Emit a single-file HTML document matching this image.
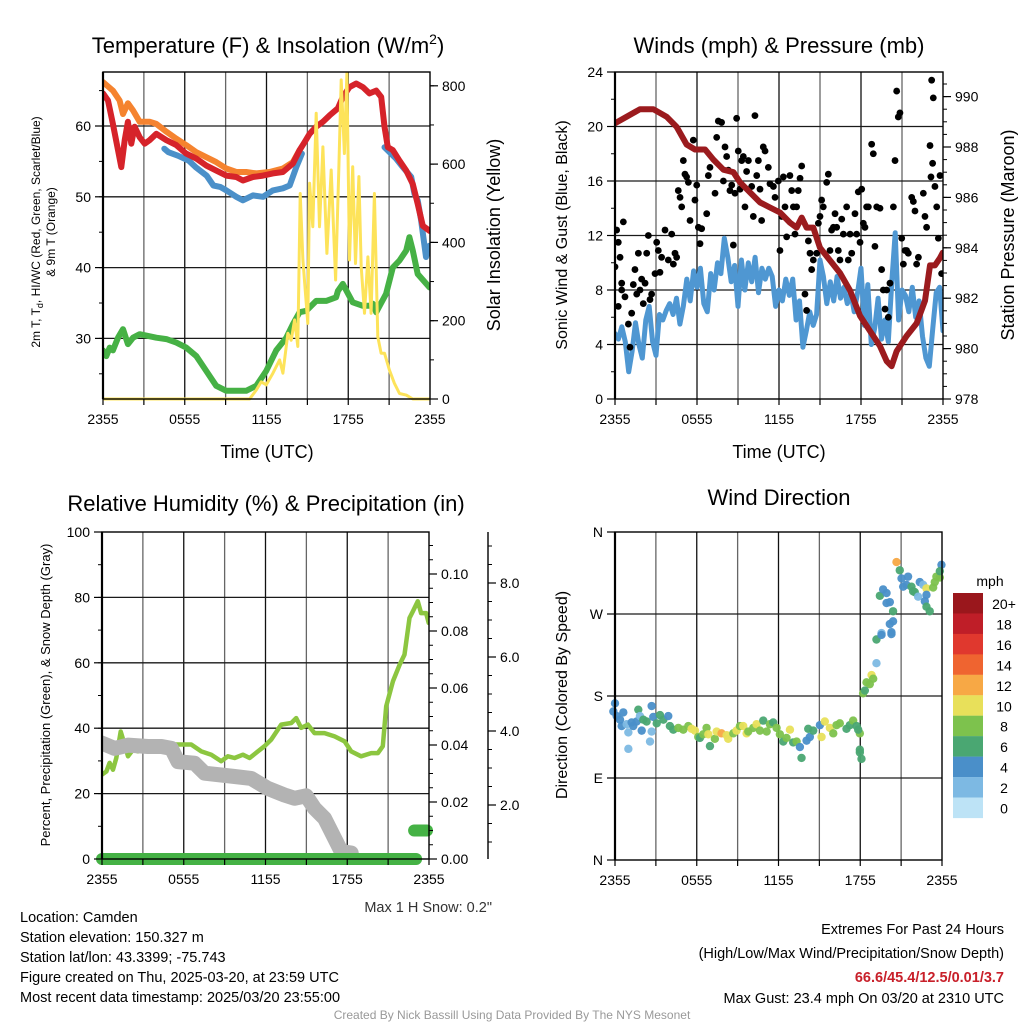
<!DOCTYPE html>
<html><head><meta charset="utf-8"><style>
html,body{margin:0;padding:0;background:#fff;}
svg{display:block;font-family:"Liberation Sans",Arial,sans-serif;}
</style></head><body>
<svg id="c" width="1024" height="1024" viewBox="0 0 1024 1024" xmlns="http://www.w3.org/2000/svg">
<g font-size="22" text-anchor="middle" fill="#000">
<text x="268" y="53">Temperature (F) &amp; Insolation (W/m<tspan dy="-9" font-size="14">2</tspan><tspan dy="9">)</tspan></text>
<text x="779" y="53">Winds (mph) &amp; Pressure (mb)</text>
<text x="266" y="511">Relative Humidity (%) &amp; Precipitation (in)</text>
<text x="779" y="505">Wind Direction</text>
</g>
<g fill="#000" text-anchor="middle">
<text x="267" y="458" font-size="18">Time (UTC)</text>
<text x="779" y="458" font-size="18">Time (UTC)</text>
<text transform="translate(40,232) rotate(-90)" font-size="12">2m T, T<tspan dy="3" font-size="9">d</tspan><tspan dy="-3">, HI/WC (Red, Green, Scarlet/Blue)</tspan></text>
<text transform="translate(55,232) rotate(-90)" font-size="12">&amp; 9m T (Orange)</text>
<text transform="translate(500,235) rotate(-90)" font-size="18">Solar Insolation (Yellow)</text>
<text transform="translate(567,235) rotate(-90)" font-size="16">Sonic Wind &amp; Gust (Blue, Black)</text>
<text transform="translate(1014,235) rotate(-90)" font-size="18">Station Pressure (Maroon)</text>
<text transform="translate(50,695) rotate(-90)" font-size="13">Percent, Precipitation (Green), &amp; Snow Depth (Gray)</text>
<text transform="translate(567,695) rotate(-90)" font-size="16">Direction (Colored By Speed)</text>
</g>
<g font-size="14.5" fill="#000">
<text x="492" y="912" text-anchor="end" fill="#333">Max 1 H Snow: 0.2"</text>
<text x="20" y="922">Location: Camden</text>
<text x="20" y="942">Station elevation: 150.327 m</text>
<text x="20" y="962">Station lat/lon: 43.3399; -75.743</text>
<text x="20" y="982">Figure created on Thu, 2025-03-20, at 23:59 UTC</text>
<text x="20" y="1002">Most recent data timestamp: 2025/03/20 23:55:00</text>
<text x="1004" y="934" text-anchor="end">Extremes For Past 24 Hours</text>
<text x="1004" y="958" text-anchor="end">(High/Low/Max Wind/Precipitation/Snow Depth)</text>
<text x="1004" y="982" text-anchor="end" fill="#c8202a" font-weight="bold">66.6/45.4/12.5/0.01/3.7</text>
<text x="1004" y="1003" text-anchor="end">Max Gust: 23.4 mph On 03/20 at 2310 UTC</text>
<text x="512" y="1019" text-anchor="middle" font-size="12" fill="#999">Created By Nick Bassill Using Data Provided By The NYS Mesonet</text>
</g>
</svg>
<script>
// ---------- DATA ----------
const timeLabels = ["2355","0555","1155","1755","2355"];
// Panel 1
const tempTicks = [30,40,50,60];
const solarTicks = [0,200,400,600,800];
const tH = [0,0.37,0.73,1.1,1.34,1.59,1.83,2.08,2.32,2.69,3.06,3.42,3.91,4.65,5.38,6.11,6.85,7.58,8.31,9.05,9.78,10.27,11.0,11.74,12.47,13.2,13.94,14.43,14.79,15.16,15.65,16.14,16.63,17.24,17.6,18.09,18.58,19.07,19.56,20.05,20.42,20.66,20.9,21.27,21.76,22.25,22.74,23.1,23.47,23.96];
const tempT = [64.6,63.6,60.3,56.6,54.2,58,60.6,57.5,59.9,58.4,57.5,58,58.9,58,57.3,56.1,55.4,54.4,53.7,53,52.8,52.3,52.8,53,53.3,53.5,54.7,56.6,57.7,58.9,59.9,60.6,61.5,62.5,64.1,65.5,66,65.5,64.6,65,64.1,59.9,57,56.6,55.1,53.7,51.8,49,45.9,45.2];
const t9H = [0,0.73,1.22,1.47,1.83,2.2,2.69,3.42,3.91,4.65,5.38,6.11,6.85,7.58,8.31,9.05,9.78,10.51,11.25,12.22,13.2,13.94,14.43];
const temp9 = [66.2,65,63.6,61.7,63.2,62.2,60.6,60.6,60.3,59.2,58.2,57.3,56.3,55.6,54.9,54,53.5,53.5,53.3,53.5,54,54.9,56.6];
const hiH = [4.5,4.8,5.5,6.3,6.8,7.6,8.1,8.6,9.05,9.78,10.27,11.0,11.74,12.47,13.2,13.7,14.19,14.6,null,20.66,21.51,22.0,22.62,22.86,23.1,23.35,23.71,23.96];
const hiWc = [56.8,56.3,55.8,55.1,54.2,53,51.6,51.4,50.9,50,49.5,50.2,50,50.9,51.2,51.6,54.2,56.1,null,57,55.4,54.2,52.8,50.4,49.5,46.7,41.5,43.1];
const tdH = [0,0.24,0.49,0.73,1.1,1.47,1.83,2.2,2.69,3.91,4.65,5.38,6.11,6.85,7.58,8.31,9.05,9.78,10.51,11.25,11.98,12.71,13.45,13.94,14.43,14.92,15.65,16.38,17.11,17.24,17.6,18.33,19.07,19.56,19.8,20.05,20.78,21.27,21.76,22.25,22.49,22.74,23.1,23.96];
const tdVal = [28.3,27.5,28.7,28.3,30.1,31.3,29.2,30.1,30.6,30.1,29.9,29.4,28.7,27.5,25.4,23.3,22.6,22.6,22.6,23.3,25.4,28.3,30.1,32,33.7,33.9,35.3,35.3,35.8,36.7,37.7,35.1,34.6,34.6,34.9,33.7,36.3,40,41,42.4,44.3,42.4,39.1,37.2];
const solH = [0,10.76,11.25,11.61,11.98,12.47,12.96,13.2,13.57,13.81,14.06,14.3,14.47,14.67,15.03,15.16,15.4,15.65,15.89,16.14,16.43,16.75,17.07,17.31,17.48,17.72,17.9,18.09,18.33,18.53,18.78,18.95,19.19,19.44,19.68,19.92,20.17,20.41,20.66,21.02,21.39,21.76,22.25,22.74,23.96];
const solVal = [0,0,23,44,36,66,100,66,168,150,202,134,525,355,193,551,440,730,440,644,372,585,304,585,815,627,832,355,593,346,568,338,219,363,219,525,159,117,117,74,40,14,10,0,0];
// Panel 2
const windTicks = [0,4,8,12,16,20,24];
const presTicks = [978,980,982,984,986,988,990];
const presH = [0,0.85,1.83,2.8,3.78,4.51,5.24,5.85,6.59,7.2,7.93,8.66,9.15,9.88,10.61,11.34,12.07,12.8,13.29,13.66,14.02,14.51,15.0,15.73,16.46,17.2,17.93,18.66,19.39,19.88,20.24,20.61,21.34,22.07,22.68,23.05,23.41,23.78,23.98];
const presVal = [988.94,989.2,989.5,989.5,989.2,988.8,988.1,987.9,987.9,987.5,987.1,987,986.6,986.2,985.8,985.6,985.4,985,984.8,985.2,984.8,984.8,984,983.5,983,982.3,981.3,980.7,980.1,979.5,979.3,979.9,980.5,981,981.9,983.3,983.3,983.6,983.8];
const windH = [0,0.25,0.5,0.75,1,1.25,1.5,1.75,2,2.25,2.5,2.75,3,3.25,3.5,3.75,4,4.25,4.5,4.75,5,5.25,5.5,5.75,6,6.25,6.5,6.75,7,7.25,7.5,7.75,8,8.25,8.5,8.75,9,9.25,9.5,9.75,10,10.25,10.5,10.75,11,11.25,11.5,11.75,12,12.25,12.5,12.75,13,13.25,13.5,13.75,14,14.25,14.5,14.75,15,15.25,15.5,15.75,16,16.25,16.5,16.75,17,17.25,17.5,17.75,18,18.25,18.5,18.75,19,19.25,19.5,19.75,20,20.25,20.5,20.75,21,21.25,21.5,21.75,22,22.25,22.5,22.75,23,23.25,23.5,23.75,24];
const windVal = [4.8,4.4,5.3,4.2,2.0,3.5,5.6,4.0,3.0,5.8,6.8,4.2,3.2,6.2,5.8,6.5,7.0,6.2,7.4,5.5,6.8,8.8,7.2,9.4,8.2,9.6,7.0,6.4,9.2,8.0,10.0,9.2,11.8,10.4,8.6,9.8,6.8,10.2,8.0,10.0,8.6,10.4,7.8,9.6,8.8,9.6,9.0,6.8,8.0,7.2,8.8,7.6,8.8,5.8,7.2,3.8,5.0,6.4,5.4,6.2,10.2,9.0,7.0,8.6,7.2,9.0,7.4,8.2,7.0,7.8,6.4,7.8,9.6,5.4,8.4,4.0,5.2,7.4,4.4,5.8,4.2,8.6,12.2,5.8,8.0,7.6,6.4,8.2,6.0,7.2,4.6,3.0,2.4,5.2,7.8,8.2,5.0];
const gustH = [0,0.12,0.24,0.37,0.61,0.24,0.49,0.49,0.73,0.98,1.1,1.22,1.34,1.46,1.59,1.71,1.83,1.95,2.07,2.2,2.32,2.44,2.56,2.68,2.93,3.05,3.17,3.29,3.41,3.66,3.9,4.15,4.27,4.39,4.51,4.63,4.76,4.88,5.0,5.12,5.24,5.37,5.49,5.73,5.85,5.98,6.1,6.22,6.34,6.71,6.83,6.95,7.32,7.44,7.56,7.8,7.93,8.05,8.17,8.29,8.41,8.54,8.66,8.78,8.9,9.02,9.15,9.27,9.39,9.51,9.63,9.76,10.0,10.12,10.24,10.37,10.49,10.61,10.73,10.85,10.98,11.22,11.34,11.59,11.71,11.95,12.07,12.2,12.32,12.44,12.56,12.8,12.93,13.05,13.17,13.29,13.41,13.54,13.66,13.9,14.02,14.15,14.27,14.39,14.51,14.76,14.88,15.0,15.12,15.24,15.49,15.61,15.73,15.85,15.98,16.1,16.22,16.34,16.46,16.59,16.71,16.95,17.07,17.2,17.32,17.56,17.68,17.8,17.93,18.05,18.17,18.29,18.41,18.54,18.78,18.9,19.02,19.15,19.39,19.51,19.63,19.76,19.88,20.0,20.12,20.37,20.49,20.61,20.73,20.85,20.98,21.1,21.22,21.34,21.46,21.71,21.83,21.95,22.07,22.2,22.56,22.68,22.8,23.05,23.12,23.24,23.29,23.17,23.41,23.54,23.66,23.78,23.9];
const gustVal = [9.7,12.4,11.5,10.4,13,6.8,8.5,8,7.5,5.5,3.8,6.3,8.4,9.5,7.7,10.7,8,8.8,7,8.5,10.7,12,7.3,7.7,9.2,11.5,10.9,9.3,10.4,12.4,10.2,12.1,9.9,10.7,10.4,15.3,14.8,14.1,17.5,16.5,16.3,15.9,13.1,19,14.6,15.7,12.6,11.4,12.5,13.6,16.4,17,15.1,19.2,20.4,20.3,16,18.5,17.8,16.8,15.3,15.7,11.3,15.1,20.6,18.2,15.4,17.5,17.8,14.1,16.7,17.5,15.6,13.4,20.8,16.4,17.5,15.4,13.1,18.5,18.2,17,15.8,15.6,14.8,16,10.9,13.4,16.3,14.1,11.9,16.4,15.3,14.1,12.1,14.1,15.3,16.2,17.1,7.7,6.5,11.6,10.7,9.5,10.2,10.7,12.9,13.4,14.6,14.1,15.9,16.5,10.9,12.4,12.6,13.6,12.6,10.9,10.2,13.2,12.1,14.1,10.2,12.1,10.7,13.6,12.1,15.2,11.5,15.4,12.9,12.6,14.1,14.1,18.7,18,11.2,14.1,14,9.5,8,6.6,8,6,8.5,14.1,17.5,22.6,20.7,21,11.8,9.9,10.9,10.9,10.7,14.8,14.5,13.8,9.9,10.4,15.1,13.4,12.6,18.6,16.3,17.3,22.1,23.4,15.6,14.1,11.8,16.4,9.2];
// Panel 3
const rhTicks = [0,20,40,60,80,100];
const precipTicks = [0,0.02,0.04,0.06,0.08,0.10];
const snowTicks = [2,4,6,8];
const rhH = [0,0.32,0.56,0.81,1.05,1.37,1.66,1.91,2.27,2.64,3.37,4.11,5.09,6.55,7.29,8.02,8.75,9.24,9.73,10.34,10.83,11.44,11.93,12.42,13.15,13.89,14.25,14.62,15.11,15.6,16.33,17.07,17.8,18.29,19.02,19.76,20.25,20.61,20.86,21.35,21.84,22.2,22.57,22.81,23.18,23.42,23.79,23.98];
const rhVal = [25.8,26.8,29.4,27.3,30.9,39,35,31.4,33.4,32.9,36,35,35,35,32.9,31.9,29.9,31.4,30.9,31.9,30.9,32.9,34.5,36.5,41.1,41.6,43.1,40.1,41.1,38.5,38.5,37.5,36,32.9,31.4,32.4,32.4,34.5,46.7,54.3,59.4,62.5,73.7,75.7,78.8,75.2,75.2,72.2];
const snowH = [0,0.93,1.91,3.37,4.36,5.09,5.58,6.79,7.53,8.75,9.73,10.95,12.17,13.39,14.13,14.99,15.6,16.33,17.07,17.56,18.3];
const snowVal = [3.67,3.53,3.62,3.58,3.58,3.53,3.17,3.13,2.86,2.81,2.77,2.72,2.45,2.27,2.18,2.25,1.91,1.64,1.1,0.74,0.7];
const precipH = [0,23.05,23.05,24];
const precipVal = [0,0,0.01,0.01];
// Panel 4
const dirLabels = ["N","E","S","W","N"];
const dirTicks = [0,90,180,270,360];
const speedLabels = ["20+","18","16","14","12","10","8","6","4","2","0"];
const dirH = [0,-0.12,0.12,0.37,0.61,0.49,0.86,0.98,0.98,1.22,1.34,1.59,1.71,1.83,1.96,2.08,2.32,2.69,2.69,2.57,2.81,3.06,3.3,3.55,3.91,4.03,4.28,4.65,5.01,5.38,5.62,5.87,6.11,6.23,6.48,6.72,6.97,6.85,7.33,7.46,7.82,8.19,8.31,8.68,8.92,9.17,9.41,9.66,9.78,10.15,10.39,10.64,10.88,11.13,11.37,11.61,11.86,12.1,12.35,12.59,12.84,13.08,13.33,13.57,13.69,14.06,14.3,14.18,14.55,15.04,15.16,15.4,15.77,16.02,16.26,16.5,16.99,17.24,17.48,17.73,17.97,17.85,17.97,17.97,18.09,18.21,18.46,18.7,18.34,18.83,18.95,19.19,19.19,19.56,19.44,19.68,19.93,20.17,19.93,20.41,20.41,20.17,20.29,19.56,20.29,20.66,20.9,21.03,21.15,21.39,21.51,21.76,21.88,22.0,22.37,22.62,22.25,22.86,22.74,22.86,22.86,23.1,23.35,23.47,23.59,23.84,23.96,23.84];
const dirVal = [172,163,158,154,162,147,149,140,122,151,147,152,165,158,142,154,152,169,141,130,157,150,159,154,158,147,143,145,143,147,144,142,135,134,138,145,125,138,133,141,139,137,133,139,142,147,147,139,141,145,149,142,153,141,149,151,145,138,130,134,143,129,130,124,112,131,135,144,142,148,135,152,145,139,148,150,144,148,153,147,139,143,121,118,111,183,195,193,186,203,199,216,242,249,290,297,293,283,282,273,262,259,250,247,248,327,318,309,300,302,311,300,295,294,305,302,289,298,284,291,278,273,299,305,311,310,324,317,308];
const dirSpd = [5,5,5,5,5,5,3,3,3,5,5,5,7,3,5,7,7,5,3,3,5,7,7,7,5,7,7,9,9,9,11,11,9,7,9,9,7,11,9,11,13,11,11,9,11,9,11,11,9,9,11,9,7,9,9,7,9,9,7,9,11,7,9,5,7,5,5,7,7,5,11,11,11,9,9,9,7,7,9,7,9,7,7,7,7,9,9,9,7,11,9,3,7,3,7,5,5,5,5,7,5,5,5,5,5,13,7,5,5,5,5,7,7,7,5,3,3,11,5,5,7,7,9,9,9,9,5,7];
const speedColors = ["#bde3f6","#7db9e3","#4a8fc9","#4aa772","#7dc24d","#e8e05a","#f7a845","#ef6430","#e0382e","#bf1e28","#9a171c"];

// ---------- HELPERS ----------
const NS = "http://www.w3.org/2000/svg";
const svg = document.getElementById("c");
function mk(parent, tag, attrs, name, inter) {
  const el = document.createElementNS(NS, tag);
  for (const k in attrs) el.setAttribute(k, attrs[k]);
  
  
  parent.appendChild(el);
  return el;
}
function txt(parent, x, y, s, size, anchor, name) {
  const t = mk(parent, "text", {x: x, y: y, "font-size": size, "text-anchor": anchor, fill: "#000"}, name, false);
  t.textContent = s;
  return t;
}
function linePath(hs, vs, fx, fy) {
  let d = "", pen = false;
  for (let i = 0; i < hs.length; i++) {
    if (hs[i] === null || vs[i] === null) { pen = false; continue; }
    d += (pen ? "L" : "M") + fx(hs[i]).toFixed(1) + "," + fy(vs[i]).toFixed(1);
    pen = true;
  }
  return d;
}
function makePanel(P, name) {
  const g = mk(svg, "g", {}, name, false);
  const defs = mk(g, "defs", {}, name + "-defs", false);
  const cp = mk(defs, "clipPath", {id: name + "-clip"}, name + "-clip", false);
  mk(cp, "rect", {x: P.x0, y: P.y0 - 2, width: P.x1 - P.x0, height: P.y1 - P.y0 + 4}, name + "-clip-rect", false);
  P.g = g;
  P.X = h => P.x0 + h * (P.x1 - P.x0) / 24;
  return g;
}
function grid(P, vals, fy, name) {
  const gg = mk(P.g, "g", {stroke: "#1a1a1a", "stroke-width": 1.3}, name, false);
  for (let h = 3; h < 24; h += 3) {
    mk(gg, "line", {x1: P.X(h), x2: P.X(h), y1: P.y0, y2: P.y1, stroke: (h % 6 === 0) ? "#111" : "#666"}, "vertical-grid-line", false);
  }
  vals.forEach(v => {
    mk(gg, "line", {x1: P.x0, x2: P.x1, y1: fy(v), y2: fy(v)}, "horizontal-grid-line", false);
  });
}
function frame(P, name) {
  mk(P.g, "rect", {x: P.x0, y: P.y0, width: P.x1 - P.x0, height: P.y1 - P.y0, fill: "none", stroke: "#000", "stroke-width": 1.4}, name + "-frame", false);
  mk(P.g, "line", {x1: P.x0, x2: P.x0, y1: P.y0, y2: P.y1, stroke: "#000", "stroke-width": 2.2}, name + "-left-axis-line", false);
}
function xAxis(P, name) {
  const ga = mk(P.g, "g", {}, name, false);
  for (let h = 0; h <= 24; h += 3) {
    mk(ga, "line", {x1: P.X(h), x2: P.X(h), y1: P.y1, y2: P.y1 + 6, stroke: "#000", "stroke-width": 1.2}, "x-tick", false);
  }
  timeLabels.forEach((l, i) => txt(ga, P.X(i * 6), P.y1 + 25, l, 14, "middle", "x-tick-label"));
}
function yTicks(P, x, dir, majors, minors, fy, fmt, name, size) {
  const ga = mk(P.g, "g", {}, name, false);
  minors.forEach(v => {
    const y = fy(v);
    if (y < P.y0 - 0.5 || y > P.y1 + 0.5) return;
    mk(ga, "line", {x1: x, x2: x + dir * 4, y1: y, y2: y, stroke: "#000", "stroke-width": 1}, "minor-tick", false);
  });
  majors.forEach((v, i) => {
    const y = fy(v);
    mk(ga, "line", {x1: x, x2: x + dir * 8, y1: y, y2: y, stroke: "#000", "stroke-width": 1.2}, "major-tick", false);
    txt(ga, x + dir * 12, y + 5, fmt(v, i), size || 14, dir < 0 ? "end" : "start", "tick-label");
  });
}
function range(a, b, s) { const r = []; for (let v = a; v <= b + 1e-9; v += s) r.push(+v.toFixed(4)); return r; }

// ---------- PANEL 1 ----------
const P1 = {x0: 103, x1: 430, y0: 72, y1: 399};
makePanel(P1, "temperature-panel");
const tY = t => 126 + (60 - t) * 7.08;
const sY = s => 399 - s * 78.3 / 200;
grid(P1, tempTicks, tY, "temperature-grid");
const c1 = mk(P1.g, "g", {"clip-path": "url(#temperature-panel-clip)", fill: "none", "stroke-linejoin": "round", "stroke-linecap": "round"}, "temperature-series", false);
mk(c1, "path", {d: linePath(hiH, hiWc, P1.X, tY), stroke: "#4b90c9", "stroke-width": 6}, "heat-index-wind-chill-line", false);
mk(c1, "path", {d: linePath(t9H, temp9, P1.X, tY), stroke: "#f5832f", "stroke-width": 6}, "9m-temperature-line", false);
mk(c1, "path", {d: linePath(tH, tempT, P1.X, tY), stroke: "#d6232a", "stroke-width": 6}, "2m-temperature-line", false);
mk(c1, "path", {d: linePath(tdH, tdVal, P1.X, tY), stroke: "#46b145", "stroke-width": 6}, "dewpoint-line", false);
mk(c1, "path", {d: linePath(solH, solVal, P1.X, sY), stroke: "#fde35a", "stroke-width": 3}, "solar-insolation-line", false);
frame(P1, "temperature-panel");
xAxis(P1, "temperature-x-axis");
yTicks(P1, P1.x0, -1, tempTicks, range(25, 65, 5), tY, v => String(v), "temperature-y-axis");
yTicks(P1, P1.x1, 1, solarTicks, range(0, 800, 100), sY, v => String(v), "solar-y-axis");

// ---------- PANEL 2 ----------
const P2 = {x0: 615, x1: 943, y0: 72, y1: 399};
makePanel(P2, "wind-panel");
const wY = w => 399 - w * 13.625;
const pY = p => 399 - (p - 978) * 25.2;
grid(P2, [4,8,12,16,20], wY, "wind-grid");
const c2 = mk(P2.g, "g", {"clip-path": "url(#wind-panel-clip)", fill: "none", "stroke-linejoin": "round", "stroke-linecap": "round"}, "wind-series", false);
mk(c2, "path", {d: linePath(windH, windVal, P2.X, wY), stroke: "#4f97d2", "stroke-width": 5}, "sonic-wind-line", false);
const gd = mk(c2, "g", {fill: "#000"}, "gust-points", false);
gustH.forEach((h, i) => {
  const dot = mk(gd, "circle", {cx: P2.X(h), cy: wY(gustVal[i]), r: 3.4}, "gust-point", false);
});
mk(c2, "path", {d: linePath(presH, presVal, P2.X, pY), stroke: "#9b1b1e", "stroke-width": 6}, "pressure-line", false);
frame(P2, "wind-panel");
xAxis(P2, "wind-x-axis");
yTicks(P2, P2.x0, -1, windTicks, range(0, 24, 2), wY, v => String(v), "wind-y-axis");
yTicks(P2, P2.x1, 1, presTicks, range(978, 991, 0.5), pY, v => String(v), "pressure-y-axis");

// ---------- PANEL 3 ----------
const P3 = {x0: 102, x1: 429, y0: 532, y1: 859};
makePanel(P3, "humidity-panel");
const rY = r => 859 - r * 3.27;
const prY = p => 859 - p * 2850;
const snY = s => 879 - s * 37;
grid(P3, [20,40,60,80], rY, "humidity-grid");
const c3 = mk(P3.g, "g", {"clip-path": "url(#humidity-panel-clip)", fill: "none", "stroke-linejoin": "round", "stroke-linecap": "round"}, "humidity-series", false);
mk(c3, "path", {d: linePath(rhH, rhVal, P3.X, rY), stroke: "#8cc640", "stroke-width": 4.5}, "relative-humidity-line", false);
mk(c3, "path", {d: linePath(snowH, snowVal, P3.X, snY), stroke: "#b3b3b3", "stroke-width": 15}, "snow-depth-line", false);
const c3b = mk(P3.g, "g", {fill: "none", "stroke-linecap": "round"}, "precip-series", false);
mk(c3b, "path", {d: linePath(precipH.slice(0, 2), precipVal.slice(0, 2), P3.X, prY), stroke: "#45b245", "stroke-width": 12}, "precipitation-line", false);
mk(c3b, "path", {d: linePath(precipH.slice(2), precipVal.slice(2), h => P3.X(h) - 2, prY), stroke: "#45b245", "stroke-width": 12}, "precipitation-line-late", false);
frame(P3, "humidity-panel");
xAxis(P3, "humidity-x-axis");
yTicks(P3, P3.x0, -1, rhTicks, range(0, 100, 10), rY, v => String(v), "humidity-y-axis");
yTicks(P3, P3.x1, 1, precipTicks, range(0, 0.115, 0.005), prY, v => v.toFixed(2), "precip-y-axis");
mk(P3.g, "line", {x1: 488, x2: 488, y1: 532, y2: 859, stroke: "#000", "stroke-width": 1.4}, "snow-axis-line", false);
yTicks(P3, 488, 1, snowTicks, range(0.5, 9, 0.5), snY, v => v.toFixed(1), "snow-y-axis");

// ---------- PANEL 4 ----------
const P4 = {x0: 615, x1: 942, y0: 532, y1: 860};
makePanel(P4, "direction-panel");
const dY = d => 860 - d * 328 / 360;
grid(P4, [90,180,270], dY, "direction-grid");
const c4 = mk(P4.g, "g", {}, "direction-points", false);
dirH.forEach((h, i) => {
  const idx = Math.min(10, Math.floor(dirSpd[i] / 2));
  const dot = mk(c4, "circle", {cx: P4.X(h), cy: dY(dirVal[i]), r: 4.2, fill: speedColors[idx], opacity: 0.95}, "direction-point", false);
});
frame(P4, "direction-panel");
xAxis(P4, "direction-x-axis");
yTicks(P4, P4.x0, -1, dirTicks, [], dY, (v, i) => dirLabels[i], "direction-y-axis");
// colorbar
const cb = mk(svg, "g", {}, "speed-colorbar", false);
txt(cb, 990, 586, "mph", 14, "middle", "colorbar-title");
speedLabels.forEach((l, i) => {
  const y = 593 + i * 20.45;
  mk(cb, "rect", {x: 953, y: y, width: 30, height: 20.6, fill: speedColors[10 - i]}, "colorbar-box", false);
  txt(cb, 1004, y + 16, l, 14, "middle", "colorbar-label");
});
</script>
</body></html>
